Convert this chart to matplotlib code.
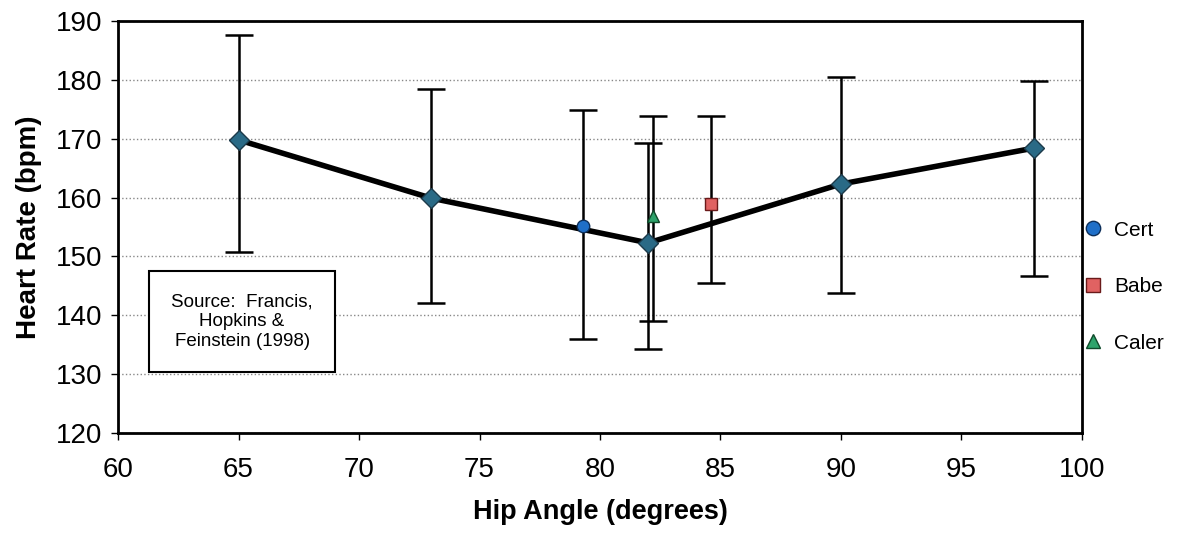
import matplotlib
matplotlib.use('Agg')
import matplotlib.pyplot as plt

plt.rcParams['font.family'] = ['Liberation Sans', 'DejaVu Sans']

# group means with error bars
hip_angle = [65, 73, 82, 90, 98]
heart_rate = [169.8, 159.9, 152.3, 162.3, 168.4]
err_low = [19.0, 17.8, 18.0, 18.5, 21.7]
err_high = [17.9, 18.5, 16.9, 18.2, 11.4]

# individual subjects
subjects = ['Cert', 'Babe', 'Caler']
subj_angle = [79.3, 84.6, 82.2]
subj_rate = [155.2, 158.9, 156.9]
subj_low = [19.3, 13.4, 17.8]
subj_high = [19.6, 15.0, 17.0]
subj_marker = ['o', 's', '^']
subj_face = ['#1f6fc8', '#e06262', '#2ea36b']
subj_edge = ['#0d2f5a', '#6a1a1a', '#0f4a2a']

fig = plt.figure(figsize=(12.03, 5.34), dpi=100)
ax = fig.add_axes([0.0981, 0.1891, 0.8013, 0.7716])

for i in range(len(subjects)):
    ax.errorbar(subj_angle[i], subj_rate[i],
                yerr=[[subj_low[i]], [subj_high[i]]],
                fmt='none', ecolor='black', elinewidth=1.8,
                capsize=10, capthick=1.8, zorder=2)

ax.errorbar(hip_angle, heart_rate, yerr=[err_low, err_high],
            fmt='none', ecolor='black', elinewidth=1.8,
            capsize=10, capthick=1.8, zorder=2)
ax.plot(hip_angle, heart_rate, color='black', lw=4, zorder=3)
ax.plot(hip_angle, heart_rate, ls='none', marker='D', ms=10.5,
        mfc='#2a6a86', mec='#1c3a4a', mew=1, zorder=4)

handles = []
for i in range(len(subjects)):
    h, = ax.plot(subj_angle[i], subj_rate[i], ls='none',
                 marker=subj_marker[i], ms=9, mfc=subj_face[i],
                 mec=subj_edge[i], mew=1, label=subjects[i], zorder=5)
    handles.append(h)

ax.set_xlim(60, 100)
ax.set_ylim(120, 190)
ax.set_xticks(range(60, 101, 5))
ax.set_yticks(range(120, 191, 10))
ax.tick_params(labelsize=20, direction='out', length=5, width=1, pad=12)
ax.tick_params(axis='y', pad=6)
ax.yaxis.grid(True, linestyle=':', color='#888888', lw=1)
for s in ax.spines.values():
    s.set_linewidth(2)

ax.set_xlabel('Hip Angle (degrees)', fontsize=19.5, fontweight='bold',
              labelpad=12)
ax.set_ylabel('Heart Rate (bpm)', fontsize=20, fontweight='bold',
              labelpad=10)

ax.text(65.15, 138.9, 'Source:  Francis,\nHopkins &\nFeinstein (1998)',
        ha='center', va='center', fontsize=13.5, linespacing=1.2,
        bbox=dict(boxstyle='square,pad=1.2', fc='white', ec='black', lw=1.5),
        zorder=6)

ax.legend(handles=handles, loc='center left', bbox_to_anchor=(0.992, 0.355),
          frameon=False, fontsize=15, labelspacing=1.8, handletextpad=0.5,
          handlelength=1.0, borderaxespad=0.0, markerscale=1.15)

fig.savefig('out.png', dpi=100)
